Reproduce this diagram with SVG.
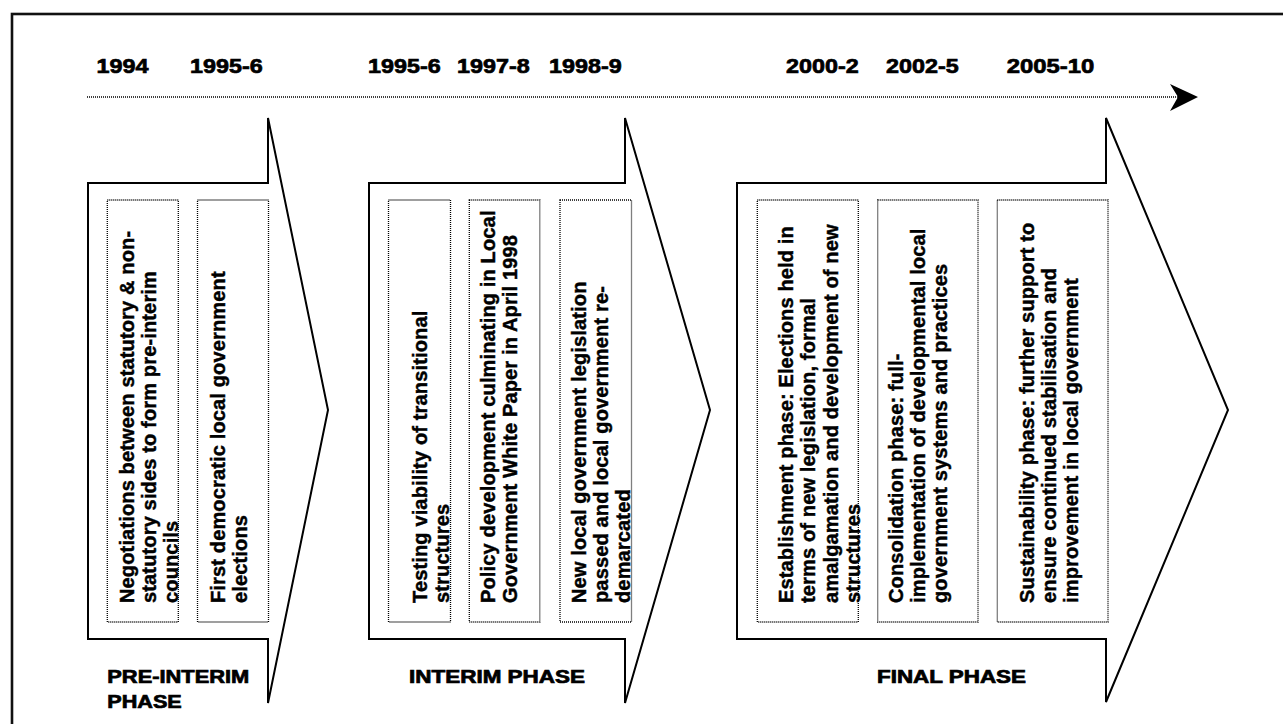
<svg xmlns="http://www.w3.org/2000/svg" width="1283" height="724" viewBox="0 0 1283 724">
<style>
.frame{fill:none;stroke:#111;stroke-width:2.6}
.arrow{fill:#fff;stroke:#000;stroke-width:2;stroke-linejoin:miter}
.box{fill:none;stroke:#000;stroke-width:1.3;stroke-dasharray:1 1}
.year{font-family:"Liberation Sans",Arial,sans-serif;font-weight:bold;font-size:21px;fill:#000;stroke:#000;stroke-width:0.7}
.txt{font-family:"Liberation Sans",Arial,sans-serif;font-weight:bold;font-size:20px;fill:#000;stroke:#000;stroke-width:0.45;letter-spacing:0.15px}
.lbl{font-family:"Liberation Sans",Arial,sans-serif;font-weight:bold;font-size:17.5px;fill:#000;stroke:#000;stroke-width:0.7}
.tl{fill:none;stroke:#000;stroke-width:1.3;stroke-dasharray:1 1}
</style>
<rect width="1283" height="724" fill="#fff"/>
<rect class="frame" x="12" y="14" width="1400" height="800"/>

<g id="timeline">
<line class="tl" x1="87" y1="97" x2="1180" y2="97"/>
<polygon points="1170,84 1198,97 1170,111 1178,97" fill="#000"/>
<text class="year" x="96.5" y="72.7" textLength="52" lengthAdjust="spacingAndGlyphs">1994</text>
<text class="year" x="190" y="72.7" textLength="72.7" lengthAdjust="spacingAndGlyphs">1995-6</text>
<text class="year" x="368" y="72.7" textLength="72.7" lengthAdjust="spacingAndGlyphs">1995-6</text>
<text class="year" x="457" y="72.7" textLength="72.7" lengthAdjust="spacingAndGlyphs">1997-8</text>
<text class="year" x="549" y="72.7" textLength="72.7" lengthAdjust="spacingAndGlyphs">1998-9</text>
<text class="year" x="786" y="72.7" textLength="72.7" lengthAdjust="spacingAndGlyphs">2000-2</text>
<text class="year" x="886" y="72.7" textLength="72.7" lengthAdjust="spacingAndGlyphs">2002-5</text>
<text class="year" x="1006.7" y="72.7" textLength="87.6" lengthAdjust="spacingAndGlyphs">2005-10</text>
</g>

<g id="pre-interim">
<path class="arrow" d="M88,183 H268 V118 L328,410 L268,703 V639 H88 Z"/>
<rect class="box" x="107.3" y="200" width="71" height="422"/>
<rect class="box" x="197.5" y="200" width="71" height="422"/>
<text class="txt" transform="translate(134,603) rotate(-90)"><tspan x="0" y="0">Negotiations between statutory &amp; non-</tspan><tspan x="0" y="22">statutory sides to form pre-interim</tspan><tspan x="0" y="44">councils</tspan></text>
<text class="txt" transform="translate(225,603) rotate(-90)"><tspan x="0" y="0">First democratic local government</tspan><tspan x="0" y="22">elections</tspan></text>
<text class="lbl" x="107.3" y="683.3" textLength="142" lengthAdjust="spacingAndGlyphs">PRE-INTERIM</text>
<text class="lbl" x="107.3" y="708.3" textLength="74.4" lengthAdjust="spacingAndGlyphs">PHASE</text>
</g>

<g id="interim">
<path class="arrow" d="M369,183 H625 V118 L710,410 L625,703 V639 H369 Z"/>
<rect class="box" x="388.5" y="200" width="62" height="422"/>
<rect class="box" x="469.3" y="200" width="70.5" height="422"/>
<rect class="box" x="560" y="200" width="71.5" height="422"/>
<text class="txt" transform="translate(427,603) rotate(-90)"><tspan x="0" y="0">Testing viability of transitional</tspan><tspan x="0" y="21.5">structures</tspan></text>
<text class="txt" transform="translate(495,603) rotate(-90)"><tspan x="0" y="0">Policy development culminating in Local</tspan><tspan x="0" y="22">Government White Paper in April 1998</tspan></text>
<text class="txt" transform="translate(586,603) rotate(-90)"><tspan x="0" y="0">New local government legislation</tspan><tspan x="0" y="22">passed and local government re-</tspan><tspan x="0" y="44">demarcated</tspan></text>
<text class="lbl" x="409" y="683.3" textLength="176" lengthAdjust="spacingAndGlyphs">INTERIM PHASE</text>
</g>

<g id="final">
<path class="arrow" d="M737,183 H1106 V118 L1228,410 L1106,702 V639 H737 Z"/>
<rect class="box" x="757.3" y="200" width="101" height="422"/>
<rect class="box" x="877.7" y="200" width="100.3" height="422"/>
<rect class="box" x="997.3" y="200" width="110.7" height="422"/>
<text class="txt" transform="translate(793,603) rotate(-90)"><tspan x="0" y="0">Establishment phase: Elections held in</tspan><tspan x="0" y="22.3">terms of new legislation, formal</tspan><tspan x="0" y="44.6">amalgamation and development of new</tspan><tspan x="0" y="67">structures</tspan></text>
<text class="txt" transform="translate(903,603) rotate(-90)"><tspan x="0" y="0">Consolidation phase: full-</tspan><tspan x="0" y="22">implementation of developmental local</tspan><tspan x="0" y="44">government systems and practices</tspan></text>
<text class="txt" transform="translate(1034,603) rotate(-90)"><tspan x="0" y="0">Sustainability phase: further support to</tspan><tspan x="0" y="22">ensure continued stabilisation and</tspan><tspan x="0" y="44">improvement in local government</tspan></text>
<text class="lbl" x="877" y="683.3" textLength="149" lengthAdjust="spacingAndGlyphs">FINAL PHASE</text>
</g>
</svg>
